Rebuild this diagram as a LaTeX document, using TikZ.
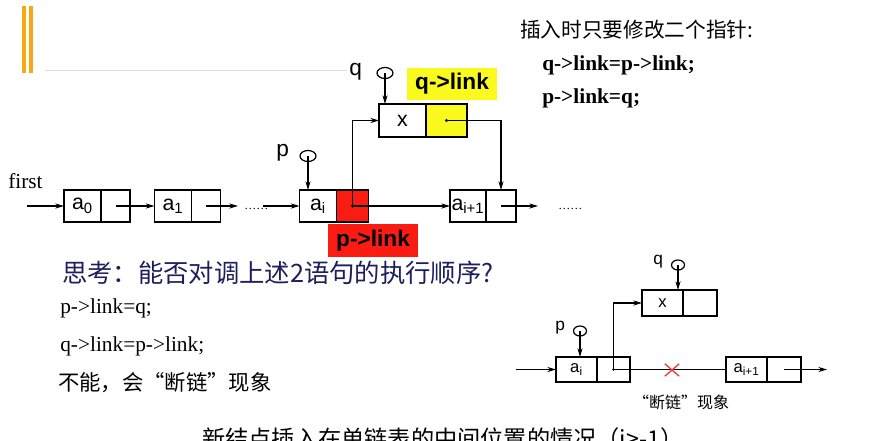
\documentclass[tikz,border=0pt]{standalone}
\usepackage{fontspec}
\setmainfont{Liberation Serif}
\setsansfont{Liberation Sans}
\newfontfamily\cjk{Noto Sans CJK SC}
\usetikzlibrary{shapes,shapes.geometric,shapes.misc,calc,positioning,arrows.meta}
\newdimen\upx \upx=0.75pt
\definecolor{barorange}{RGB}{245,170,20}
\definecolor{linegray}{RGB}{222,222,222}
\definecolor{linkred}{RGB}{250,28,18}
\definecolor{linkyellow}{RGB}{250,250,30}
\definecolor{asknavy}{RGB}{30,30,95}
\definecolor{crossred}{RGB}{240,60,60}

\begin{document}
\begin{tikzpicture}
	[x=0.75pt,y=-0.75pt,>={Stealth[length=6.5pt,width=3.8pt]},
	dat/.style={draw,line width=1.25pt,inner sep=0pt,outer sep=0pt,minimum width=37\upx,minimum height=32\upx,font=\sffamily\fontsize{16}{16}\selectfont},
	lnk/.style={draw,line width=1.25pt,inner sep=0pt,outer sep=0pt,minimum width=29\upx,minimum height=32\upx},
	sdat/.style={dat,line width=1.1pt,minimum width=41\upx,minimum height=25\upx,font=\sffamily\fontsize{12.5}{12.5}\selectfont},
	slnk/.style={lnk,line width=1.1pt,minimum width=34\upx,minimum height=25\upx},
	ptr/.style={draw,ellipse,line width=0.9pt,minimum width=16\upx,minimum height=11\upx,inner sep=0pt},
	lbl/.style={inner sep=0pt,anchor=west},
	nxt/.style={->,line width=0.8pt},
	dotmark/.style={circle,fill,inner sep=0pt,minimum size=3.2\upx}]
	\useasboundingbox (0,0) rectangle (881,441);
	\fill[barorange] (22,6) rectangle (26,73);
	\fill[barorange] (29,6) rectangle (33,73);
	\draw[linegray,line width=0.6pt] (45,70) -- (347,70);

	% main list
	\node[dat] (a0) at (82.5,206) {a\textsubscript{0}};
	\node[lnk,right=0pt of a0] (a0l) {};
	\node[dat] (a1) at (173,206) {a\textsubscript{1}};
	\node[lnk,right=0pt of a1] (a1l) {};
	\node[dat] (ai) at (318,206) {a\textsubscript{i}};
	\node[lnk,right=0pt of ai,minimum width=32\upx,fill=linkred] (ail) {};
	\node[dat,minimum width=36\upx] (ai1) at (468,206) {a\textsubscript{i+1}};
	\node[lnk,right=0pt of ai1,minimum width=30\upx] (ai1l) {};
	\node[dat,minimum width=47\upx,minimum height=33\upx] (nx) at (402.5,120.5) {x};
	\node[lnk,right=0pt of nx,minimum width=41\upx,minimum height=33\upx,fill=linkyellow] (nxl) {};

	\node[lbl,font=\fontsize{16}{16}\selectfont] (first) at (8,181) {first};
	\coordinate (fst) at (27,206);
	\coordinate (d1) at (238,206);
	\coordinate (d2) at (263,206);
	\coordinate (e1) at (538,206);
	\node[lbl,font=\fontsize{9}{9}\selectfont] (dots1) at (244,209) {……};
	\node[lbl,font=\fontsize{9}{9}\selectfont] (dots2) at (558,209) {……};
	\path[nxt]
	\foreach \startNode/\endNode in {fst/a0.west,a0l.center/a1.west,a1l.center/d1,d2/ai.west,ail.center/ai1.west,ai1l.center/e1}
	{
		(\startNode) edge (\endNode)
	};
	\draw[nxt] (ail.center) |- (nx.west);
	\draw[nxt] (nxl.center) -| (ai1l.north);
	\node[dotmark] (aidot) at (ail.center) {};
	\node[dotmark] (xdot) at (nxl.center) {};

	\node[ptr] (qc) at (385,73) {};
	\node[lbl,font=\sffamily\fontsize{17}{17}\selectfont] (qlab) at (349,72) {q};
	\draw[nxt] (qc.center) -- (qc.center |- nx.north);
	\node[ptr] (pc) at (308,156) {};
	\node[lbl,font=\sffamily\fontsize{17}{17}\selectfont] (plab) at (276,153) {p};
	\draw[nxt] (pc.center) -- (pc.center |- ai.north);

	\node[fill=linkyellow,minimum width=90\upx,minimum height=32\upx,inner sep=0pt,font=\sffamily\bfseries\fontsize{17}{17}\selectfont] (qlink) at (452,84) {q->link};
	\node[fill=linkred,minimum width=90\upx,minimum height=33\upx,inner sep=0pt,font=\sffamily\bfseries\fontsize{17}{17}\selectfont] (plink) at (373,240.5) {p->link};

	% texts
	\node[lbl,font=\cjk\fontsize{15.5}{15.5}\selectfont] (hint) at (520,30) {插入时只要修改二个指针:};
	\node[lbl,font=\bfseries\fontsize{16}{16}\selectfont] (stmt1) at (542,65) {q->link=p->link;};
	\node[lbl,font=\bfseries\fontsize{16}{16}\selectfont] (stmt2) at (542,98) {p->link=q;};
	\node[lbl,text=asknavy,font=\cjk\fontsize{19}{19}\selectfont] (ask) at (62,273) {思考：能否对调上述2语句的执行顺序?};
	\node[lbl,font=\fontsize{16}{16}\selectfont] (swap1) at (60,308) {p->link=q;};
	\node[lbl,font=\fontsize{16}{16}\selectfont] (swap2) at (60,346) {q->link=p->link;};
	\node[lbl,font=\cjk\fontsize{16}{16}\selectfont] (answer) at (58,383) {不能，会“断链”现象};
	\node[lbl,font=\cjk\fontsize{17.4}{17.4}\selectfont] (caption) at (202,439) {新结点插入在单链表的中间位置的情况（i>-1）};

	% broken chain
	\node[sdat] (bi) at (576.5,369.5) {a\textsubscript{i}};
	\node[slnk,right=0pt of bi,minimum width=33\upx] (bil) {};
	\node[sdat] (bj) at (746.5,369.5) {a\textsubscript{i+1}};
	\node[slnk,right=0pt of bj] (bjl) {};
	\node[sdat,minimum height=26\upx] (bx) at (662.5,303) {x};
	\node[slnk,right=0pt of bx,minimum height=26\upx] (bxl) {};
	\coordinate (sin) at (516,369.5);
	\coordinate (sout) at (827,369.5);
	\path[nxt]
	\foreach \startNode/\endNode in {sin/bi.west,bjl.center/sout}
	{
		(\startNode) edge (\endNode)
	};
	\draw[nxt] (bil.center) |- (bx.west);
	\draw[line width=0.8pt] (bil.center) -- (bj.west);
	\node[dotmark,minimum size=2.6\upx] (bdot) at (bil.center) {};
	\node[cross out,draw=crossred,line width=1pt,minimum width=13\upx,minimum height=11\upx,inner sep=0pt] (brk) at (672,370) {};
	\node[ptr,minimum width=13\upx,minimum height=10\upx] (sqc) at (678,265) {};
	\node[lbl,font=\sffamily\fontsize{13}{13}\selectfont] (sqlab) at (653,262) {q};
	\draw[nxt] (sqc.center) -- (sqc.center |- bx.north);
	\node[ptr,minimum width=13\upx,minimum height=10\upx] (spc) at (580,331) {};
	\node[lbl,font=\sffamily\fontsize{13}{13}\selectfont] (splab) at (555,328) {p};
	\draw[nxt] (spc.center) -- (spc.center |- bi.north);
	\node[font=\cjk\fontsize{12}{12}\selectfont] (brklab) at (681,402) {“断链”现象};
\end{tikzpicture}
\end{document}
